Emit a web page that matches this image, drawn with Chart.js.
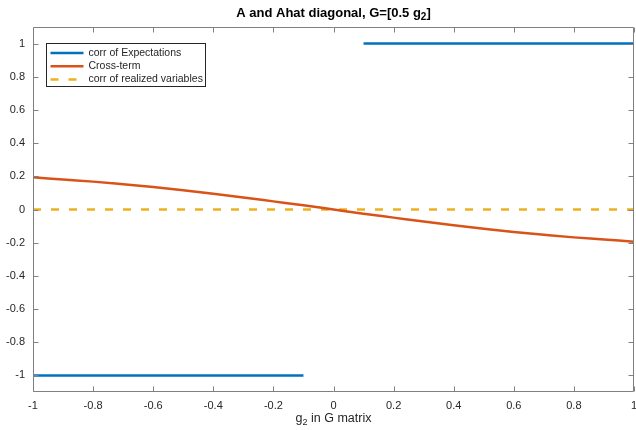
<!DOCTYPE html>
<html>
<head>
<meta charset="utf-8">
<script src="https://cdn.jsdelivr.net/npm/chart.js@4.4.1/dist/chart.umd.min.js"></script>
<style>
  html, body { margin: 0; padding: 0; background: #fff; }
  #wrap { width: 636px; height: 430px; }
</style>
</head>
<body>
<div id="wrap"><canvas id="c"></canvas></div>
<script>
// g2 values along the x axis
const g2Values = [-1, -0.9, -0.8, -0.7, -0.6, -0.5, -0.4, -0.3, -0.2, -0.1, 0,
                  0.1, 0.2, 0.3, 0.4, 0.5, 0.6, 0.7, 0.8, 0.9, 1];
// series
const corrExpectations = [-1, -1, -1, -1, -1, -1, -1, -1, -1, -1, null,
                          1, 1, 1, 1, 1, 1, 1, 1, 1, 1];
const crossTerm = [0.194, 0.181, 0.168, 0.152, 0.135, 0.116, 0.095, 0.073, 0.049, 0.025, 0,
                   -0.025, -0.049, -0.073, -0.095, -0.116, -0.135, -0.152, -0.168, -0.181, -0.194];
const corrRealized = [0, 0, 0, 0, 0, 0, 0, 0, 0, 0, 0,
                      0, 0, 0, 0, 0, 0, 0, 0, 0, 0];
// tick labels
const xTicks = [-1, -0.8, -0.6, -0.4, -0.2, 0, 0.2, 0.4, 0.6, 0.8, 1];
const yTicks = [-1, -0.8, -0.6, -0.4, -0.2, 0, 0.2, 0.4, 0.6, 0.8, 1];

const FONT = '"Liberation Sans", Arial, Helvetica, sans-serif';
const TEXT = '#262626';
const AXIS = '#808080';

function pts(ys) {
    return g2Values.map((x, i) => ({ x: x, y: ys[i] }));
}

// draws text with a subscript part: parts = [[text, isSub], ...]
function drawSubText(ctx, parts, cx, baseline, size, weight) {
    const big = weight + ' ' + size + 'px ' + FONT;
    const small = weight + ' ' + Math.round(size * 0.75) + 'px ' + FONT;
    let total = 0;
    parts.forEach(p => { ctx.font = p[1] ? small : big; total += ctx.measureText(p[0]).width; });
    let x = cx - total / 2;
    ctx.textAlign = 'left';
    ctx.textBaseline = 'alphabetic';
    parts.forEach(p => {
        ctx.font = p[1] ? small : big;
        ctx.fillText(p[0], x, p[1] ? baseline + 3 : baseline);
        x += ctx.measureText(p[0]).width;
    });
}

// box, inward ticks, title, x label, legend inside the plot
const matlabLook = {
    id: 'matlabLook',
    afterDraw(chart) {
        const ctx = chart.ctx;
        const a = chart.chartArea;
        const xs = chart.scales.x, ys = chart.scales.y;
        ctx.save();
        ctx.strokeStyle = AXIS;
        ctx.lineWidth = 1;
        ctx.beginPath();
        const L = Math.round(a.left) + 0.5, R = Math.round(a.right) - 0.5;
        const T = Math.round(a.top) + 0.5, B = Math.round(a.bottom) - 0.5;
        ctx.rect(L, T, R - L, B - T);
        xTicks.forEach(v => {
            const px = Math.round(xs.getPixelForValue(v)) + 0.5;
            ctx.moveTo(px, B); ctx.lineTo(px, B - 5);
            ctx.moveTo(px, T); ctx.lineTo(px, T + 5);
        });
        yTicks.forEach(v => {
            const py = Math.round(ys.getPixelForValue(v)) + 0.5;
            ctx.moveTo(L, py); ctx.lineTo(L + 5, py);
            ctx.moveTo(R, py); ctx.lineTo(R - 5, py);
        });
        ctx.stroke();

        const cx = (a.left + a.right) / 2;
        ctx.fillStyle = '#000';
        drawSubText(ctx, [['A and Ahat diagonal, G=[0.5 g', false], ['2', true], [']', false]], cx, 17, 13, 'bold');
        ctx.fillStyle = TEXT;
        drawSubText(ctx, [['g', false], ['2', true], [' in G matrix', false]], cx, 422, 12.5, 'normal');

        // legend box
        const bx = a.left + 13.5, by = a.top + 16.5, bw = 159, bh = 43;
        ctx.fillStyle = '#fff';
        ctx.fillRect(bx, by, bw, bh);
        ctx.strokeStyle = TEXT;
        ctx.lineWidth = 1;
        ctx.strokeRect(bx, by, bw, bh);
        ctx.font = '10.5px ' + FONT;
        ctx.textBaseline = 'middle';
        ctx.textAlign = 'left';
        chart.data.datasets.forEach((ds, i) => {
            const y = by + 9.5 + i * 13.3;
            ctx.strokeStyle = ds.borderColor;
            ctx.lineWidth = ds.borderWidth;
            ctx.setLineDash(ds.borderDash || []);
            ctx.beginPath();
            ctx.moveTo(bx + 4, y); ctx.lineTo(bx + 37, y);
            ctx.stroke();
            ctx.setLineDash([]);
            ctx.fillStyle = TEXT;
            ctx.fillText(ds.label, bx + 42, y);
        });
        ctx.restore();
    }
};

new Chart(document.getElementById('c'), {
    type: 'line',
    data: {
        datasets: [{
            label: 'corr of Expectations',
            data: pts(corrExpectations),
            borderColor: '#0072BD',
            borderWidth: 2.5,
            pointRadius: 0,
            spanGaps: false
        }, {
            label: 'Cross-term',
            data: pts(crossTerm),
            borderColor: '#D95319',
            borderWidth: 2.5,
            pointRadius: 0,
            cubicInterpolationMode: 'monotone'
        }, {
            label: 'corr of realized variables',
            data: pts(corrRealized),
            borderColor: '#EDB120',
            borderWidth: 2.5,
            borderDash: [8, 10],
            pointRadius: 0
        }]
    },
    options: {
        responsive: true,
        maintainAspectRatio: false,
        animation: false,
        layout: { padding: { top: 27, right: 2, bottom: 0, left: 0 } },
        plugins: {
            legend: { display: false },
            tooltip: { enabled: false },
            title: { display: false }
        },
        scales: {
            x: {
                type: 'linear',
                min: -1,
                max: 1,
                afterBuildTicks: s => { s.ticks = xTicks.map(v => ({ value: v })); },
                afterFit: s => { s.height = 38; s.paddingLeft = 0; s.paddingRight = 0; },
                grid: { display: false, drawTicks: false },
                border: { display: false },
                ticks: {
                    color: TEXT,
                    padding: 7,
                    maxRotation: 0,
                    font: { size: 11, family: FONT },
                    callback: v => String(Number(v.toFixed(1)))
                }
            },
            y: {
                min: -1.1,
                max: 1.1,
                afterBuildTicks: s => { s.ticks = yTicks.map(v => ({ value: v })); },
                afterFit: s => { s.width = 33; s.paddingTop = 0; s.paddingBottom = 0; },
                grid: { display: false, drawTicks: false },
                border: { display: false },
                ticks: {
                    color: TEXT,
                    padding: 8,
                    font: { size: 11, family: FONT },
                    callback: v => String(Number(v.toFixed(1)))
                }
            }
        }
    },
    plugins: [matlabLook]
});
</script>
</body>
</html>
